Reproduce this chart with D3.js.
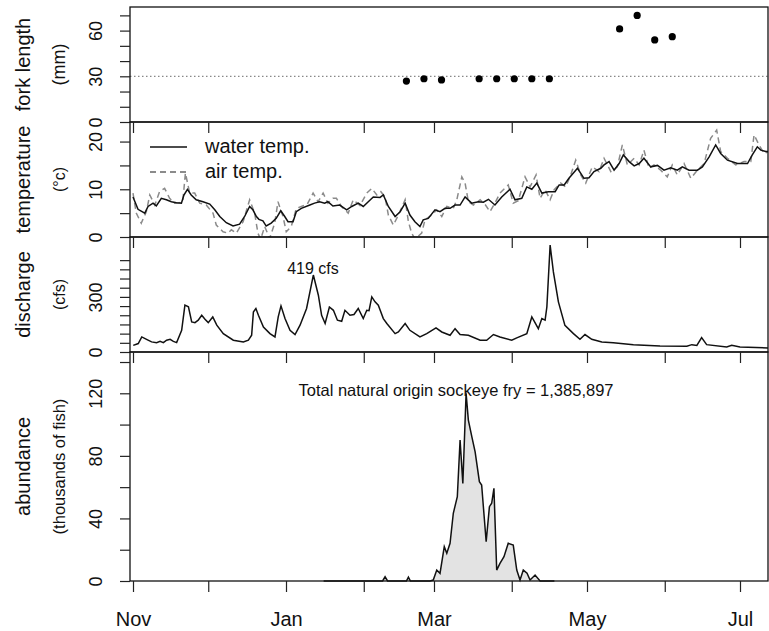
<!DOCTYPE html>
<html>
<head>
<meta charset="utf-8">
<script src="https://cdn.jsdelivr.net/npm/d3@7"></script>
<style>
  body { margin: 0; background: #fff; }
  text { font-family: "Liberation Sans", Arial, sans-serif; fill: #111; }
</style>
</head>
<body>
<script>
// days are counted from Nov 1 2018
const forkDay = [109, 116, 123, 138, 145, 152, 159, 166, 194, 201, 208, 215];
const forkLen = [26.9, 28.4, 27.6, 28.4, 28.4, 28.4, 28.4, 28.4, 61.1, 70.0, 53.9, 56.0];

const waterDay = [0,2,4.7,6,8,9.3,11.3,13.3,15.3,17.3,19.3,20.3,21.7,23.2,25.2,27.9,30.6,32.6,34.6,37.2,39.9,42.5,44.5,46.5,47.8,49.2,50.2,51.8,53.1,55.1,57.1,58.9,60.5,61.8,63.8,65.1,67.1,70.5,72.4,74.4,76.4,77.7,79.7,82.4,85.2,87.2,89.8,91.8,93.8,95.8,98.5,99.8,101.8,104.5,106.5,108.5,110.4,112.4,114.4,115.7,117.7,120.4,122.4,124.4,126.4,128.4,130.4,132.4,135,137.7,139.7,141.7,144.3,147,150.3,152.3,155,157,159,161,163,165.6,168.3,169.9,171.9,173.8,177.2,179.8,181.8,183.8,186.5,187.8,189.8,191.8,193.8,195.5,197.8,199.8,201.8,203.7,206.4,209.1,211.7,214.4,217,219,221.7,225,227,229.7,232.3,234.3,237,241,245,246.9,248.9,250.3,252.3,253.6];
const waterTemp = [8.4,5.8,5.0,6.4,7.1,6.5,8.1,7.8,7.4,7.2,7.1,8.8,10.0,8.8,7.8,7.4,6.9,5.7,4.3,3.0,2.3,2.7,4.3,6.4,5.7,4.3,3.7,3.4,2.3,2.9,3.9,5.5,4.3,3.2,3.2,5.3,6.0,6.7,7.1,7.4,7.1,7.4,6.5,6.7,5.7,6.4,7.1,6.4,7.4,8.4,8.3,8.8,6.4,4.3,5.3,7.1,4.6,3.2,2.2,3.6,3.9,5.7,5.3,6.0,6.0,6.7,6.7,8.4,7.1,7.4,7.3,7.9,6.7,8.4,10.0,7.8,8.1,10.5,10.0,11.3,9.2,9.5,9.5,10.9,10.9,12.3,14.4,12.3,12.4,13.7,14.4,15.1,15.8,14.0,15.4,17.2,15.8,14.9,15.4,16.5,14.7,15.0,14.0,14.5,14.0,14.7,14.0,14.0,14.7,16.8,19.3,17.5,16.1,15.4,15.4,17.2,18.9,18.2,17.9,17.9];

const airDay = [0,1.3,3.3,5.3,6.7,8.7,10.6,12.6,14.6,16.6,18.6,19.9,20.9,22.6,24.6,26.6,29.2,31.9,33.2,35.9,37.9,39.2,41.2,43.9,46.5,48.5,49.8,50.9,52.5,54.5,56.5,57.8,59.8,61.1,63.1,65.1,67.1,69.4,71.8,73.8,75.8,77.7,79.7,81.1,83.1,85.8,87.8,90.5,93.2,95.2,97.2,98.8,100.5,101.8,103.8,105.8,108.5,109.8,111.1,112.4,115.1,116.4,119.1,121.1,123.1,125.1,127.7,129.1,131.1,132.4,133.7,135.7,138.4,140.4,142.3,144.3,146.3,149.6,151.6,153.6,156.3,158.3,160.7,162.3,164.3,166.3,167.9,170.5,172.5,174.5,176.5,178.5,180.5,183.1,185.8,187.8,190.5,193.1,195.1,197.1,199.8,201.8,203.7,205.7,207.7,210.4,213,215,217,219.7,222.4,225,227.7,230.3,232.7,234.3,237,240.3,243.6,246.3,247.6,249.6,251.6,253.6];
const airTemp = [9.2,5.0,2.9,5.3,8.8,6.7,9.5,10.2,8.1,7.1,7.2,7.8,13.4,9.2,9.2,7.1,6.7,5.0,2.5,1.1,0.8,1.5,0.8,3.2,7.8,5.0,0.8,-0.5,2.2,-0.3,2.9,7.4,4.3,1.1,2.2,6.0,6.4,6.8,9.2,7.4,9.2,7.1,8.1,8.1,6.4,5.0,7.8,6.6,9.2,10.2,8.8,9.5,8.4,4.6,2.5,4.6,7.8,3.2,0.8,-0.4,0.8,3.6,4.6,5.7,4.3,6.4,6.0,7.8,12.6,11.3,7.4,6.7,7.8,6.8,5.3,7.1,9.2,10.9,7.1,7.6,12.6,10.5,13.0,8.1,9.9,7.8,9.9,11.3,10.5,13.0,16.1,13.0,11.3,14.7,13.7,16.5,13.7,14.7,19.3,15.1,16.5,15.1,18.2,14.4,15.1,14.0,12.6,15.1,13.0,15.4,12.3,14.0,15.4,20.7,22.4,17.9,16.5,15.1,15.8,15.8,21.4,19.3,17.5,17.9];

const flowDay = [0.1,2.1,3.5,5.4,7.4,9.4,10.8,12.1,13.4,14.8,16.1,17.4,19.4,20.7,22.1,23.4,24.7,26,27.4,28.7,30,31.8,33.4,36,40,44,46,47.3,48,49,50,52,54.6,56.6,57.9,59,60.6,62.6,64.6,66.6,69.2,71.9,73.9,75.2,76.6,78.3,79.9,81.5,83.2,84.5,86.5,88.1,89.8,91.8,93.2,94.1,95.2,96.5,97.8,99.8,101.2,104.5,105.8,108.5,110.4,114.4,117.1,120.8,123.1,126.4,128.4,130.4,133.7,138.4,141,143.7,146.3,151,153,157,159,161.6,163,164.3,165,166.3,167.6,169.6,172.2,175.6,178.2,180.2,182.9,186.9,191.5,199.5,210.1,220.8,222.8,224.8,226.7,228.7,236.7,238.7,242,253.6];
const flowCfs = [36,46,82,69,55,51,58,51,64,69,58,51,118,255,246,164,160,173,200,178,160,191,146,100,64,55,64,91,218,237,200,136,100,82,191,251,182,118,95,146,237,419,309,200,155,245,227,173,167,227,200,204,237,182,227,225,300,273,255,182,155,100,109,155,118,82,100,131,109,91,127,95,91,64,64,95,82,64,77,100,191,127,182,173,245,582,436,273,145,100,69,95,69,55,51,40,33,31,40,36,78,40,27,36,27,22];

const fryDay = [76,99.5,100.5,101.5,109,109.8,110.6,118.4,119.7,121.1,122.4,124.1,125.1,126.4,127.7,129.3,130.4,131.5,132.8,133.7,135.1,136.4,138.1,139,140.8,142.1,143,143.9,145,146.3,147.9,149.6,151.6,153,154.3,155.6,157.1,158.3,160.3,162.3,168];
const fryK = [0,0,2.7,0,0,2.5,0,0,0.6,7.0,4.9,21.9,17.7,24.1,43.3,53.9,90.1,62.4,120,102.9,92.2,82.6,63.5,61.4,25.1,47.5,49.7,59.2,7.0,11.3,15.5,24.1,23.0,7.0,0.6,7.0,5.0,0.6,3.8,0,0];

const forkTicks = [0, 10, 20, 30, 40, 50, 60, 70];
const forkLabels = [0, 30, 60];
const tempTicks = [0, 5, 10, 15, 20];
const tempLabels = [0, 10, 20];
const flowTicks = [0, 50, 100, 150, 200, 250, 300, 350, 400, 450, 500];
const flowLabels = [0, 300];
const fryTicks = [0, 20, 40, 60, 80, 100, 120, 140];
const fryLabels = [0, 40, 80, 120];
const monthLabels = ["Nov", "Jan", "Mar", "May", "Jul"];

const width = 769;
const height = 631;
const left = 130, right = 768;

const nov1 = Date.UTC(2018, 10, 1);
const jul1 = Date.UTC(2019, 6, 1);
const toDate = d => new Date(nov1 + d * 864e5);

const svg = d3.select("body").append("svg")
  .attr("width", width)
  .attr("height", height);

const x = d3.scaleTime()
  .domain([new Date(nov1 - 28.7 * 36e5), new Date(jul1 + 267.9 * 36e5)])
  .range([left, right]);

const months = d3.utcMonth.range(new Date(nov1), new Date(jul1 + 1));

const yFork = d3.scaleLinear().domain([0, 75.5]).range([122, 7]);
const yTemp = d3.scaleLinear().domain([0, 24.1]).range([237, 122]);
const yFlow = d3.scaleLinear().domain([0, 626]).range([352, 237]);
const yFry = d3.scaleLinear().domain([0, 146.4]).range([581, 352]);

function clipFor(id, y) {
  const [b, t] = y.range();
  svg.append("clipPath").attr("id", id)
    .append("rect")
    .attr("x", left).attr("y", t)
    .attr("width", right - left).attr("height", b - t);
  return `url(#${id})`;
}

function frame(y, ticks, labels, title, sub, subSize) {
  const [b, t] = y.range();
  svg.append("rect")
    .attr("x", left).attr("y", t)
    .attr("width", right - left).attr("height", b - t)
    .attr("fill", "none").attr("stroke", "#111").attr("stroke-width", 1.3);

  const g = svg.append("g")
    .attr("transform", `translate(${left},0)`)
    .call(d3.axisLeft(y).tickValues(ticks).tickSize(10)
      .tickFormat(d => labels.includes(d) ? d : ""));
  g.select(".domain").remove();
  g.selectAll(".tick line").attr("stroke", "#222").attr("stroke-width", 1.2);
  g.selectAll(".tick text")
    .attr("transform", "rotate(-90)")
    .attr("x", 0).attr("y", -28).attr("dy", 0)
    .attr("text-anchor", "middle")
    .attr("fill", "#111")
    .style("font-family", "Liberation Sans, Arial, sans-serif")
    .style("font-size", "18px");

  const cy = (t + b) / 2;
  svg.append("text")
    .attr("transform", `translate(30,${cy}) rotate(-90)`)
    .attr("text-anchor", "middle")
    .style("font-size", "20px")
    .text(title);
  svg.append("text")
    .attr("transform", `translate(65,${cy}) rotate(-90)`)
    .attr("text-anchor", "middle")
    .style("font-size", subSize + "px")
    .text(sub);
}

function monthTicks(yPos, values, withLabels) {
  const g = svg.append("g")
    .attr("transform", `translate(0,${yPos})`)
    .call(d3.axisBottom(x).tickValues(values).tickSize(11)
      .tickFormat(d => {
        const m = d3.utcFormat("%b")(d);
        return withLabels && monthLabels.includes(m) ? m : "";
      }));
  g.select(".domain").remove();
  g.selectAll(".tick line").attr("stroke", "#222").attr("stroke-width", 1.2);
  g.selectAll(".tick text")
    .attr("y", 45).attr("dy", 0)
    .attr("fill", "#111")
    .style("font-family", "Liberation Sans, Arial, sans-serif")
    .style("font-size", "20px");
}

// fork length panel
svg.append("line")
  .attr("x1", left).attr("x2", right)
  .attr("y1", yFork(30)).attr("y2", yFork(30))
  .attr("stroke", "#888").attr("stroke-width", 1.2)
  .attr("stroke-dasharray", "1.5,2.5");

svg.append("g").selectAll("circle")
  .data(d3.zip(forkDay, forkLen))
  .enter().append("circle")
  .attr("cx", d => x(toDate(d[0])))
  .attr("cy", d => yFork(d[1]))
  .attr("r", 3.6)
  .attr("fill", "#000");

frame(yFork, forkTicks, forkLabels, "fork length", "(mm)", 18);

// temperature panel
const tempClip = clipFor("clipTemp", yTemp);
const tempLine = d3.line()
  .x(d => x(toDate(d[0])))
  .y(d => yTemp(d[1]));

svg.append("path")
  .datum(d3.zip(airDay, airTemp))
  .attr("clip-path", tempClip)
  .attr("d", tempLine)
  .attr("fill", "none")
  .attr("stroke", "#8a8a8a")
  .attr("stroke-width", 1.5)
  .attr("stroke-dasharray", "6,4");

svg.append("path")
  .datum(d3.zip(waterDay, waterTemp))
  .attr("clip-path", tempClip)
  .attr("d", tempLine)
  .attr("fill", "none")
  .attr("stroke", "#111")
  .attr("stroke-width", 1.5);

svg.append("line")
  .attr("x1", 150).attr("x2", 187).attr("y1", 147).attr("y2", 147)
  .attr("stroke", "#111").attr("stroke-width", 1.5);
svg.append("line")
  .attr("x1", 150).attr("x2", 187).attr("y1", 172).attr("y2", 172)
  .attr("stroke", "#666").attr("stroke-width", 1.5)
  .attr("stroke-dasharray", "6,4");
svg.append("text").attr("x", 205).attr("y", 153)
  .style("font-size", "20px").text("water temp.");
svg.append("text").attr("x", 205).attr("y", 178)
  .style("font-size", "20px").text("air temp.");

frame(yTemp, tempTicks, tempLabels, "temperature", "(°c)", 16);
// the legend hides the Jan tick under the top panel
monthTicks(122, months.filter(m => d3.utcFormat("%b")(m) !== "Jan"), false);

// discharge panel
const flowClip = clipFor("clipFlow", yFlow);
svg.append("path")
  .datum(d3.zip(flowDay, flowCfs))
  .attr("clip-path", flowClip)
  .attr("d", d3.line()
    .x(d => x(toDate(d[0])))
    .y(d => yFlow(d[1])))
  .attr("fill", "none")
  .attr("stroke", "#111")
  .attr("stroke-width", 1.5);

svg.append("text")
  .attr("x", 313).attr("y", 274)
  .attr("text-anchor", "middle")
  .style("font-size", "16px")
  .text("419 cfs");

frame(yFlow, flowTicks, flowLabels, "discharge", "(cfs)", 16);
monthTicks(237, months, false);

// abundance panel
const fry = d3.zip(fryDay, fryK);
svg.append("path")
  .datum(fry)
  .attr("d", d3.area()
    .x(d => x(toDate(d[0])))
    .y0(yFry(0))
    .y1(d => yFry(d[1])))
  .attr("fill", "#e3e3e3");
svg.append("path")
  .datum(fry)
  .attr("d", d3.line()
    .x(d => x(toDate(d[0])))
    .y(d => yFry(d[1])))
  .attr("fill", "none")
  .attr("stroke", "#111")
  .attr("stroke-width", 1.5);

svg.append("text")
  .attr("x", 456).attr("y", 396)
  .attr("text-anchor", "middle")
  .style("font-size", "16.5px")
  .text("Total natural origin sockeye fry = 1,385,897");

frame(yFry, fryTicks, fryLabels, "abundance", "(thousands of fish)", 16.5);
monthTicks(352, months, false);
monthTicks(581, months, true);
</script>
</body>
</html>
